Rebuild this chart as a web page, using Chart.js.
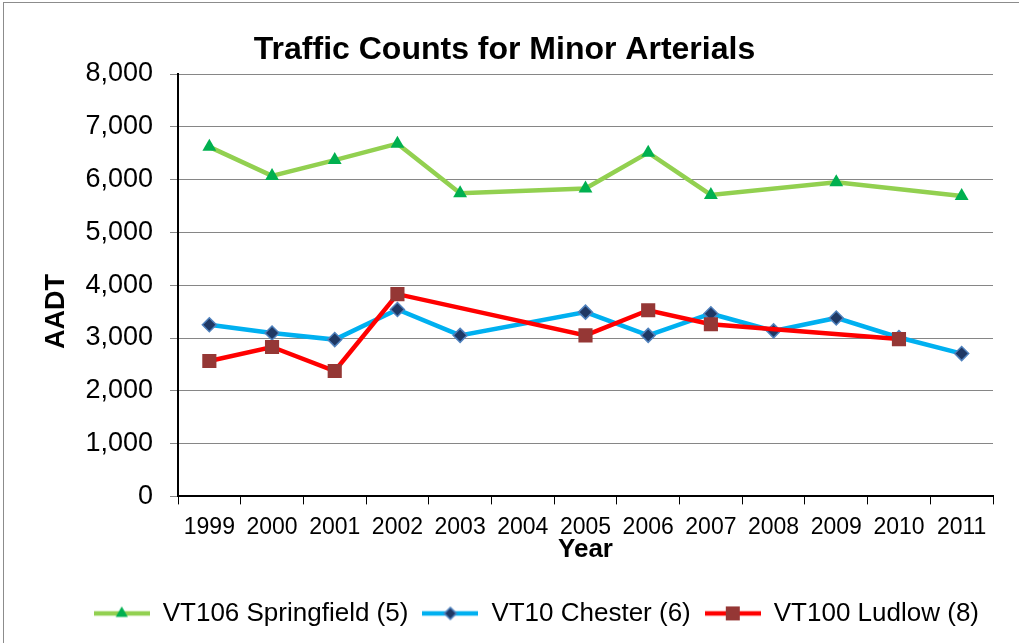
<!DOCTYPE html>
<html>
<head>
<meta charset="utf-8">
<script src="https://cdn.jsdelivr.net/npm/chart.js@4.4.0/dist/chart.umd.min.js"></script>
<style>
  html, body { margin: 0; padding: 0; background: #fff; overflow: hidden; }
  #frame { position: absolute; left: 3px; top: 2px; width: 1030px; height: 660px; border: 1px solid #8c8c8c; }
  #wrap { position: absolute; left: 0; top: 0; width: 1019px; height: 643px; }
</style>
</head>
<body>
<div id="frame"></div>
<div id="wrap"><canvas id="chart" width="1019" height="643"></canvas></div>
<script>
const years = ["1999", "2000", "2001", "2002", "2003", "2004", "2005", "2006", "2007", "2008", "2009", "2010", "2011"];
const springfield = [6620, 6070, 6370, 6680, 5740, null, 5830, 6510, 5710, null, 5950, null, 5690];
const chester = [3250, 3095, 2970, 3540, 3050, null, 3490, 3050, 3460, 3135, 3380, 3010, 2705];
const ludlow = [2565, 2830, 2375, 3830, null, null, 3050, 3525, 3260, null, null, 2980, null];
const yTicks = [0, 1000, 2000, 3000, 4000, 5000, 6000, 7000, 8000];

const FONT = "'Liberation Sans', Arial, sans-serif";
const GRID = "#868686";

/* small legend glyph: line segment with the marker on top */
function makeIcon(ds) {
  const c = document.createElement("canvas");
  c.width = 56; c.height = 20;
  const g = c.getContext("2d");
  g.strokeStyle = ds.borderColor; g.lineWidth = ds.borderWidth;
  g.beginPath(); g.moveTo(0, 10); g.lineTo(56, 10); g.stroke();
  g.fillStyle = ds.pointBackgroundColor;
  g.strokeStyle = ds.pointBorderColor;
  g.lineWidth = ds.pointBorderWidth;
  const x = 28, y = 10;
  g.beginPath();
  if (ds.pointStyle === "triangle") {
    const r = 7;
    g.moveTo(x, y - r); g.lineTo(x + r * 0.866, y + r / 2); g.lineTo(x - r * 0.866, y + r / 2);
  } else if (ds.pointStyle === "rectRot") {
    const r = 6;
    g.moveTo(x, y - r); g.lineTo(x + r, y); g.lineTo(x, y + r); g.lineTo(x - r, y);
  } else {
    const s = 7;
    g.rect(x - s, y - s, 2 * s, 2 * s);
  }
  g.closePath(); g.fill();
  if (ds.pointBorderWidth) g.stroke();
  return c;
}

const datasets = [
  { label: "VT106 Springfield (5)", data: springfield, borderColor: "#92D050", borderWidth: 4.5,
    pointStyle: "triangle", pointRadius: 8, pointHoverRadius: 8,
    pointBackgroundColor: "#00B050", pointBorderColor: "#00B050", pointBorderWidth: 0, order: 2 },
  { label: "VT10 Chester (6)", data: chester, borderColor: "#00B0F0", borderWidth: 4.5,
    pointStyle: "rectRot", pointRadius: 7, pointHoverRadius: 7,
    pointBackgroundColor: "#1F3864", pointBorderColor: "#4F81BD", pointBorderWidth: 1.5, order: 1 },
  { label: "VT100 Ludlow (8)", data: ludlow, borderColor: "#FF0000", borderWidth: 4.5,
    pointStyle: "rect", pointRadius: 10, pointHoverRadius: 10,
    pointBackgroundColor: "#953735", pointBorderColor: "#953735", pointBorderWidth: 0, order: 0 }
];
datasets.forEach(d => { d.spanGaps = true; d.tension = 0; d.fill = false; });

new Chart(document.getElementById("chart").getContext("2d"), {
  type: "line",
  data: { labels: years, datasets },
  options: {
    responsive: false,
    animation: false,
    layout: { padding: { left: 16, right: 26, top: 10, bottom: 6.6 } },
    plugins: {
      title: {
        display: true, text: "Traffic Counts for Minor Arterials", color: "#000",
        font: { family: FONT, size: 32, weight: "bold" }, padding: { top: 21, bottom: 4.6 }
      },
      legend: {
        position: "bottom",
        align: "end",
        labels: {
          usePointStyle: true, pointStyleWidth: 56, boxHeight: 20, padding: 14, color: "#000",
          font: { family: FONT, size: 26 },
          generateLabels: (chart) => chart.data.datasets.map((ds, i) => ({
            text: ds.label, datasetIndex: i, pointStyle: makeIcon(ds), fontColor: "#000",
            fillStyle: "rgba(0,0,0,0)", strokeStyle: "rgba(0,0,0,0)", lineWidth: 0, hidden: false
          }))
        }
      },
      tooltip: { enabled: false }
    },
    scales: {
      x: {
        offset: true,
        afterFit: (s) => { s.height = 90; },
        grid: {
          offset: true, drawOnChartArea: true, tickLength: 8,
          color: (c) => c.index === years.length ? GRID : "rgba(0,0,0,0)",
          lineWidth: (c) => c.index === years.length ? 2 : 1,
          tickColor: "#000"
        },
        border: { color: "#000", width: 2 },
        ticks: { color: "#000", font: { family: FONT, size: 23 }, padding: 9, maxRotation: 0, autoSkip: false },
        title: { display: true, text: "Year", color: "#000", font: { family: FONT, size: 26, weight: "bold", lineHeight: 0.7 },
                 padding: { top: 0, bottom: 27 } }
      },
      y: {
        min: 0, max: 8000,
        afterFit: (s) => { s.width = 162; },
        afterBuildTicks: (s) => { s.ticks = yTicks.map(v => ({ value: v })); },
        grid: { color: GRID, tickColor: GRID, tickLength: 8 },
        border: { color: "#000", width: 2 },
        ticks: { color: "#000", font: { family: FONT, size: 27 }, padding: 17,
                 callback: (v) => Number(v).toLocaleString("en-US") },
        title: { display: true, text: "AADT       ", color: "#000", font: { family: FONT, size: 27, weight: "bold" },
                 padding: { top: 24, bottom: 4 } }
      }
    }
  }
});
</script>
</body>
</html>
